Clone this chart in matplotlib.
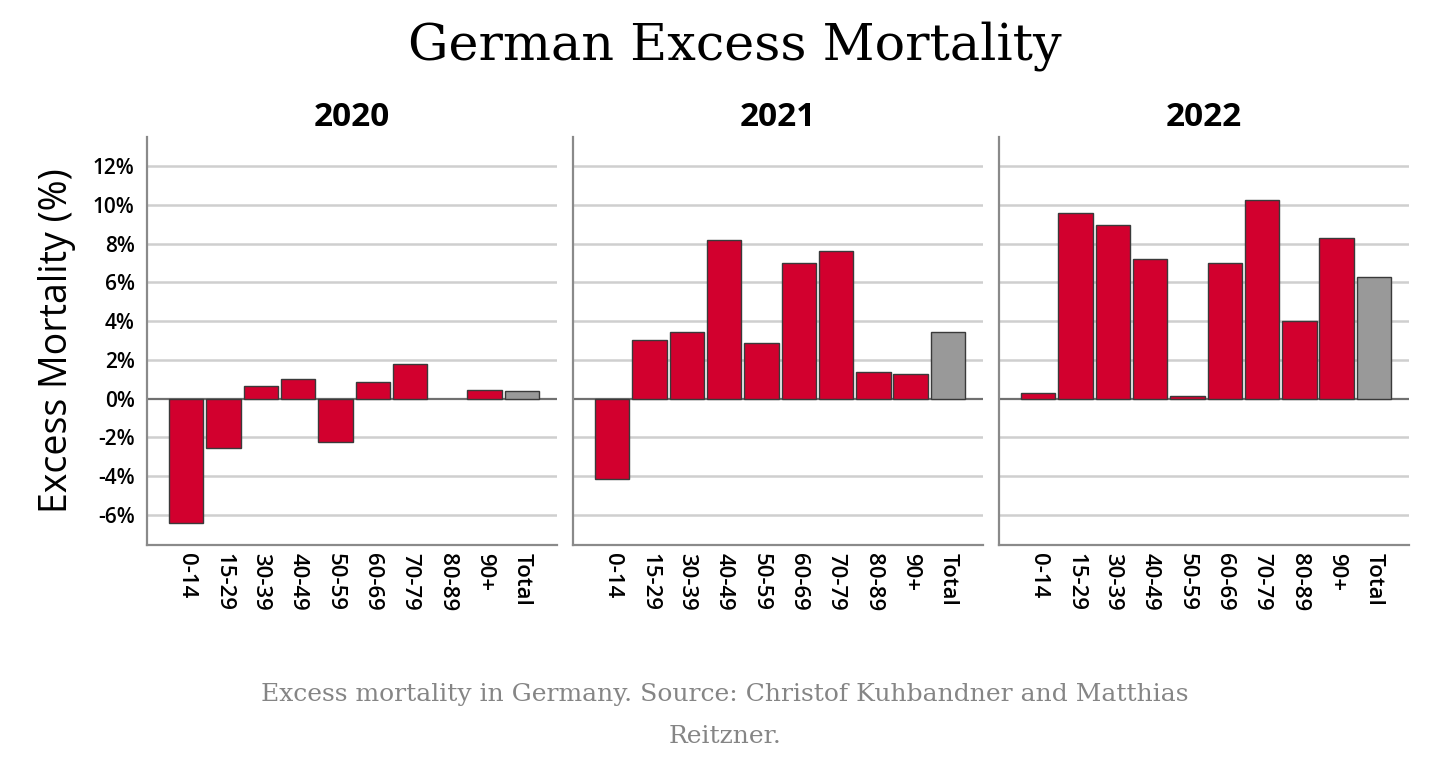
import numpy as np
import matplotlib
matplotlib.use("Agg")
import matplotlib.pyplot as plt

# age groups and excess mortality (%) per year
age_groups = ["0-14", "15-29", "30-39", "40-49", "50-59",
              "60-69", "70-79", "80-89", "90+", "Total"]
years = ["2020", "2021", "2022"]
excess_2020 = [-6.4, -2.55, 0.65, 1.0, -2.25, 0.85, 1.77, 0.0, 0.45, 0.4]
excess_2021 = [-4.15, 3.05, 3.45, 8.2, 2.85, 7.0, 7.6, 1.4, 1.25, 3.45]
excess_2022 = [0.27, 9.6, 8.95, 7.2, 0.12, 7.0, 10.25, 4.0, 8.3, 6.27]
yticks = [-6, -4, -2, 0, 2, 4, 6, 8, 10, 12]

RED = "#d2002e"
GREY = "#999999"
GRID = "#cfcfcf"
SPINE = "#8a8a8a"
SANS = "Open Sans"

fig = plt.figure(figsize=(14.5, 7.66), dpi=100)

lefts = [0.1014, 0.3952, 0.6890]
series = [excess_2020, excess_2021, excess_2022]
x = np.arange(len(age_groups))
colors = [RED] * (len(age_groups) - 1) + [GREY]

for i, (left, vals, yr) in enumerate(zip(lefts, series, years)):
    ax = fig.add_axes([left, 0.2885, 0.283, 0.5326])
    for yv in yticks:
        ax.axhline(yv, color="#707070" if yv == 0 else GRID,
                   lw=1.6 if yv == 0 else 1.8, zorder=1)
    # skip zero-height bars so no stray outline sits on the zero line
    xs = [xi for xi, v in zip(x, vals) if v != 0]
    hs = [v for v in vals if v != 0]
    cs = [c for c, v in zip(colors, vals) if v != 0]
    ax.bar(xs, hs, width=0.92, color=cs, edgecolor="#3a3a3a",
           linewidth=1.0, zorder=2)
    ax.set_xlim(-1.05, 9.95)
    ax.set_ylim(-7.55, 13.5)
    for s in ["top", "right"]:
        ax.spines[s].set_visible(False)
    for s in ["left", "bottom"]:
        ax.spines[s].set_color(SPINE)
        ax.spines[s].set_linewidth(1.6)
    ax.set_xticks(x)
    ax.set_xticklabels(age_groups, rotation=-90, fontsize=16,
                       fontfamily=SANS, fontweight="semibold")
    ax.tick_params(axis="x", length=0, pad=6)
    ax.set_yticks(yticks)
    if i == 0:
        ax.set_yticklabels([f"{v}%" for v in yticks], fontsize=15,
                           fontfamily=SANS, fontweight="semibold")
        ax.tick_params(axis="y", length=0, pad=9)
        ax.set_ylabel("Excess Mortality (%)", fontsize=27,
                      fontfamily=SANS, labelpad=12)
    else:
        ax.set_yticklabels([])
        ax.tick_params(axis="y", length=0)
    ax.set_title(yr, fontsize=24, fontweight="bold", fontfamily=SANS, pad=8)

fig.text(0.507, 0.94, "German Excess Mortality", ha="center", va="center",
         fontsize=36.5, fontfamily="DejaVu Serif")
fig.text(0.5, 0.093, "Excess mortality in Germany. Source: Christof Kuhbandner and Matthias",
         ha="center", va="center", fontsize=18, color="#858585", fontfamily="DejaVu Serif")
fig.text(0.5, 0.038, "Reitzner.", ha="center", va="center", fontsize=18,
         color="#858585", fontfamily="DejaVu Serif")

fig.savefig("out.png", dpi=100)
